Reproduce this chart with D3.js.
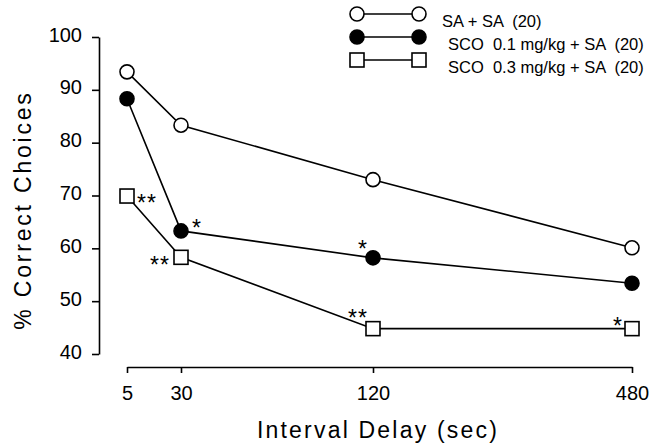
<!DOCTYPE html>
<html lang="en">
<head>
    <meta charset="UTF-8">
    <title>Interval Delay</title>
    <script src="https://d3js.org/d3.v7.min.js"></script>
    <style>
        body { margin: 0; background: #fff; }
        svg { font-family: "Liberation Sans", Arial, sans-serif; }
        .tick text { fill: #000; }
        .legend-text { white-space: pre; }
    </style>
</head>
<body>
    <svg id="chart"></svg>

    <script>
        const delays = [5, 30, 120, 480];
        const yTicks = [40, 50, 60, 70, 80, 90, 100];
        const saSa = [93.4, 83.3, 73.0, 60.1];
        const sco01 = [88.3, 63.3, 58.2, 53.4];
        const sco03 = [69.9, 58.3, 44.8, 44.8];
        const seriesNames = ["SA + SA  (20)", "SCO  0.1 mg/kg + SA  (20)", "SCO  0.3 mg/kg + SA  (20)"];
        // significance marks: series index, delay index, label
        const marks = [
            { s: 2, i: 0, label: "**" },
            { s: 1, i: 1, label: "*" },
            { s: 2, i: 1, label: "**" },
            { s: 1, i: 2, label: "*" },
            { s: 2, i: 2, label: "**" },
            { s: 2, i: 3, label: "*" }
        ];

        const width = 650, height = 447;
        const svg = d3.select("#chart").attr("width", width).attr("height", height);

        const x = d3.scaleLinear().domain(delays).range([127, 181, 373, 632]);
        const y = d3.scaleLinear().domain([40, 100]).range([354, 37]);

        // y axis
        const yAxis = svg.append("g")
            .attr("transform", "translate(99,0)")
            .call(d3.axisLeft(y).tickValues(yTicks).tickSize(7).tickSizeOuter(0).tickPadding(10));
        yAxis.selectAll("text").style("font-size", "20px").attr("dy", "0.2em");
        yAxis.selectAll("path, line").attr("stroke", "#000").attr("stroke-width", 1.6);

        // x axis (detached from y axis)
        const xAxis = svg.append("g")
            .attr("transform", "translate(0,367)")
            .call(d3.axisBottom(x).tickValues(delays).tickSize(6).tickSizeOuter(0).tickPadding(13));
        xAxis.selectAll("text").style("font-size", "20px");
        xAxis.selectAll("path, line").attr("stroke", "#000").attr("stroke-width", 1.6);

        svg.append("text")
            .attr("x", 378).attr("y", 438)
            .attr("text-anchor", "middle")
            .style("font-size", "23px").style("letter-spacing", "2.2px")
            .text("Interval Delay (sec)");

        svg.append("text")
            .attr("transform", "translate(31,210) rotate(-90)")
            .attr("text-anchor", "middle")
            .style("font-size", "23px").style("letter-spacing", "2.8px")
            .text("% Correct Choices");

        const series = [
            { values: saSa, shape: "circle", fill: "#fff" },
            { values: sco01, shape: "circle", fill: "#000" },
            { values: sco03, shape: "square", fill: "#fff" }
        ];

        const line = d3.line().x((d, i) => x(delays[i])).y(d => y(d));

        function drawMarker(g, shape, fill, cx, cy) {
            if (shape === "circle") {
                g.append("circle").attr("cx", cx).attr("cy", cy).attr("r", 7)
                    .attr("fill", fill).attr("stroke", "#000").attr("stroke-width", 1.6);
            } else {
                g.append("rect").attr("x", cx - 7).attr("y", cy - 7).attr("width", 14).attr("height", 14)
                    .attr("fill", fill).attr("stroke", "#000").attr("stroke-width", 1.6);
            }
        }

        series.forEach(s => {
            svg.append("path")
                .datum(s.values)
                .attr("d", line)
                .attr("fill", "none")
                .attr("stroke", "#000")
                .attr("stroke-width", 1.6);
            const g = svg.append("g");
            s.values.forEach((v, i) => drawMarker(g, s.shape, s.fill, x(delays[i]), y(v)));
        });

        // asterisks (offset of glyph centre from the marker centre)
        const markOffsets = [[20, 2], [16, -8], [-21, 3], [-10, -14], [-15, -16], [-14, -8]];
        svg.selectAll(".sig")
            .data(marks)
            .enter().append("text")
            .attr("class", "sig")
            .attr("x", (d, k) => x(delays[d.i]) + markOffsets[k][0])
            .attr("y", (d, k) => y(series[d.s].values[d.i]) + markOffsets[k][1] + 13)
            .attr("text-anchor", "middle")
            .style("font-size", "23px")
            .style("letter-spacing", "1px")
            .text(d => d.label);

        // legend
        const legend = svg.append("g");
        seriesNames.forEach((name, k) => {
            const ly = 14 + k * 23;
            legend.append("line").attr("x1", 357).attr("x2", 419).attr("y1", ly).attr("y2", ly)
                .attr("stroke", "#000").attr("stroke-width", 1.6);
            drawMarker(legend, series[k].shape, series[k].fill, 357, ly);
            drawMarker(legend, series[k].shape, series[k].fill, 419, ly);
            legend.append("text")
                .attr("class", "legend-text")
                .attr("x", k === 0 ? 442 : 448).attr("y", ly + 13)
                .style("font-size", "16.5px")
                .text(name);
        });
    </script>
</body>
</html>
